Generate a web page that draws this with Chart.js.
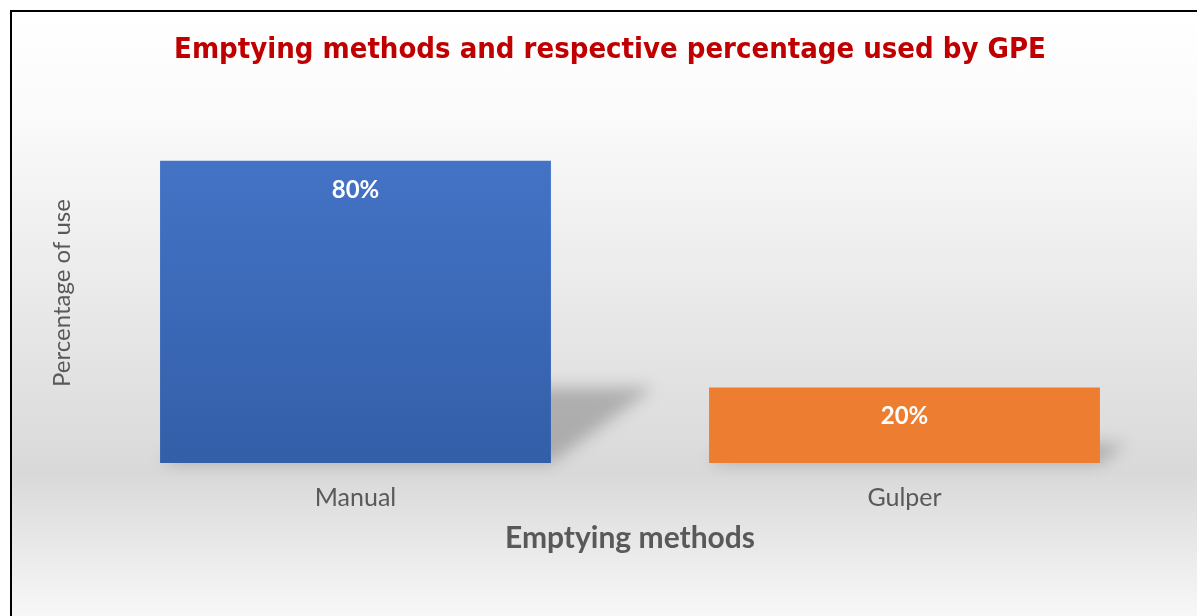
<!DOCTYPE html>
<html>
<head>
<meta charset="utf-8">
<script src="https://cdn.jsdelivr.net/npm/chart.js@4"></script>
<style>
  html, body { margin: 0; padding: 0; background: #fff; overflow: hidden; }
  #frame {
    position: absolute; left: 10px; top: 10px; width: 1300px; height: 640px;
    border: 2px solid #000;
    background: linear-gradient(to bottom, #ffffff 0%, #fbfbfb 15%, #d9d9d9 72%, #ffffff 100%);
  }
  #wrap { position: absolute; left: 0; top: 0; width: 1197px; height: 616px; }
</style>
</head>
<body>
<div id="frame"></div>
<div id="wrap"><canvas id="chart" width="1197" height="616"></canvas></div>
<script>
const categories = ['Manual', 'Gulper'];
const percentages = [80, 20];
const chartTitle = 'Emptying methods and respective percentage used by GPE';

const ctx = document.getElementById('chart').getContext('2d');

// blue bar gets a soft top-to-bottom gradient, orange stays flat
function barColor(context) {
  const area = context.chart.chartArea;
  if (!area) return '#4472c4';
  if (context.dataIndex === 1) return '#ed7d31';
  const g = context.chart.ctx.createLinearGradient(0, area.top, 0, area.bottom);
  g.addColorStop(0, '#4676ca');
  g.addColorStop(1, '#335ea8');
  return g;
}

// perspective shadow behind each bar
const shadowPlugin = {
  id: 'shadow',
  beforeDatasetsDraw(chart) {
    const c = chart.ctx;
    chart.getDatasetMeta(0).data.forEach(bar => {
      const p = bar.getProps(['x', 'y', 'base', 'width'], true);
      const h = p.base - p.y;
      const left = p.x - p.width / 2, right = p.x + p.width / 2;
      c.save();
      c.filter = 'blur(8px)';
      c.fillStyle = 'rgba(0,0,0,0.22)';
      c.beginPath();
      c.moveTo(left, p.base);
      c.lineTo(right, p.base);
      c.lineTo(right + h * 0.34, p.base - h * 0.25);
      c.lineTo(left + h * 0.34, p.base - h * 0.25);
      c.closePath();
      c.fill();
      c.restore();
    });
  }
};

const labelPlugin = {
  id: 'valueLabels',
  afterDatasetsDraw(chart) {
    const c = chart.ctx;
    c.save();
    c.fillStyle = '#ffffff';
    c.font = 'bold 24px Lato';
    c.textAlign = 'center';
    c.textBaseline = 'middle';
    chart.getDatasetMeta(0).data.forEach((bar, i) => {
      c.fillText(percentages[i] + '%', bar.x, bar.y + 29);
    });
    c.restore();
  }
};

const titlePlugin = {
  id: 'topTitle',
  afterDraw(chart) {
    const c = chart.ctx;
    c.save();
    c.fillStyle = '#c00000';
    c.font = 'bold 29px "DejaVu Sans Condensed"';
    c.textAlign = 'center';
    c.textBaseline = 'middle';
    c.fillText(chartTitle, 610, 50);
    c.restore();
  }
};

new Chart(ctx, {
  type: 'bar',
  data: {
    labels: categories,
    datasets: [{
      data: percentages,
      backgroundColor: barColor,
      borderWidth: 0,
      barPercentage: 0.712,
      categoryPercentage: 1
    }]
  },
  options: {
    responsive: false,
    animation: false,
    layout: { padding: { left: 0, right: 18, top: 123, bottom: 0 } },
    plugins: {
      legend: { display: false },
      tooltip: { enabled: false }
    },
    scales: {
      x: {
        grid: { display: false, drawTicks: false },
        border: { display: false },
        ticks: { color: '#595959', font: { family: 'Lato', size: 25 }, padding: 20 },
        title: {
          display: true, text: 'Emptying methods', color: '#595959',
          font: { family: 'Lato', size: 30, weight: 'bold' }, padding: { top: 0, bottom: 60 }
        },
        afterFit: s => { s.height = 616 - 463; }
      },
      y: {
        min: 0, max: 90,
        grid: { display: false },
        border: { display: false },
        ticks: { display: false },
        title: {
          display: true, text: 'Percentage of use', color: '#595959',
          font: { family: 'Lato', size: 24 }, padding: { top: 48, bottom: 0 }
        },
        afterFit: s => { s.width = 81; }
      }
    }
  },
  plugins: [shadowPlugin, labelPlugin, titlePlugin]
});
</script>
</body>
</html>
